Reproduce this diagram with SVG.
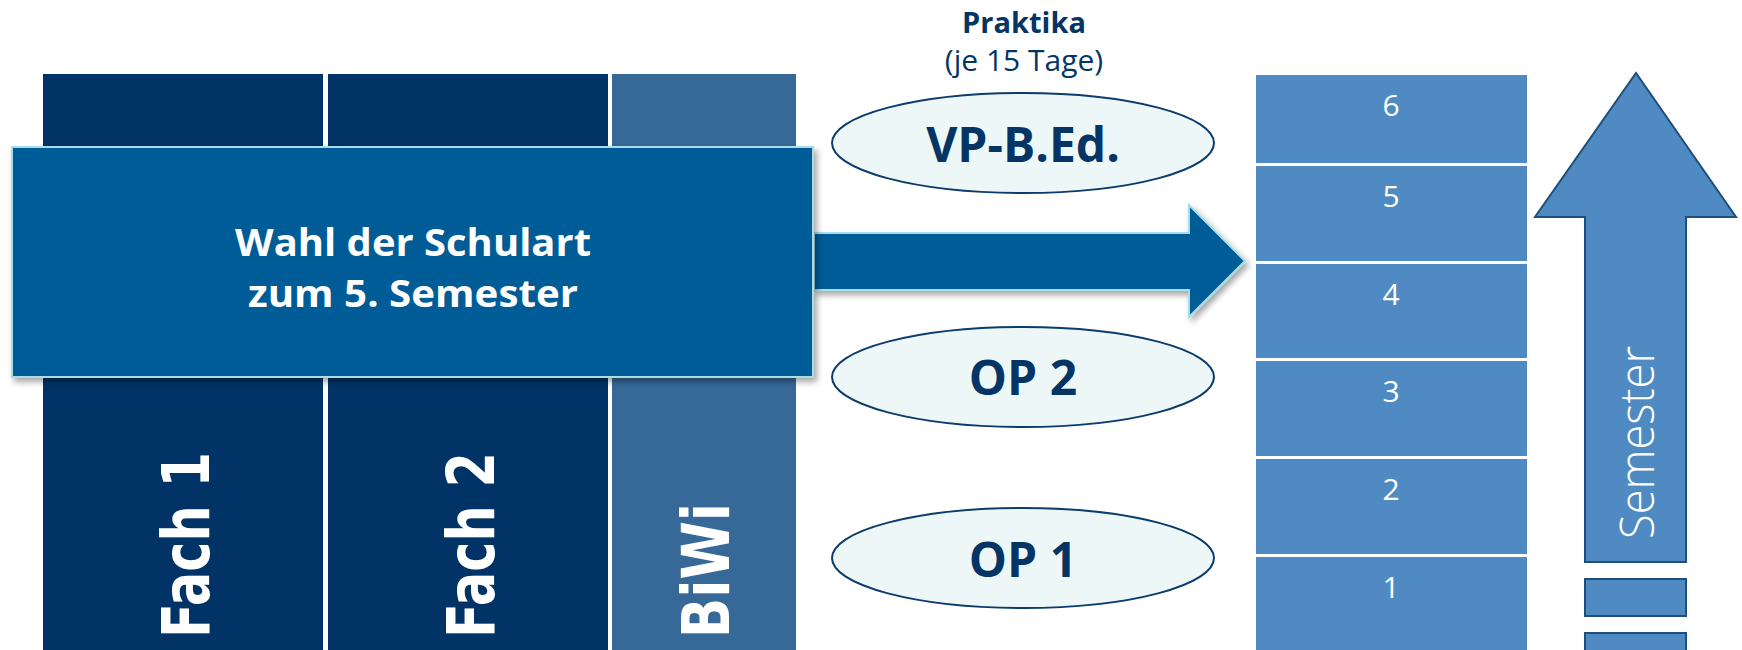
<svg xmlns="http://www.w3.org/2000/svg" width="1742" height="650" viewBox="0 0 1742 650">
<defs>
<filter id="shadow" x="-5%" y="-5%" width="115%" height="120%">
<feDropShadow dx="3" dy="4" stdDeviation="3" flood-color="#000" flood-opacity="0.35"/>
</filter>
</defs>
<style>
.col{fill:#023366;}
.biwi{fill:#366898;}
.colText{font-family:"DejaVu Sans",sans-serif;font-weight:bold;font-size:66px;fill:#ffffff;}
.main{fill:#005B96;stroke:#A8DCE6;stroke-width:2;}
.mainText{font-family:"Open Sans",sans-serif;font-weight:bold;font-size:38px;fill:#ffffff;text-anchor:middle;}
.ell{fill:#EEF7F7;stroke:#0B3C6C;stroke-width:2;}
.ellText{font-family:"Open Sans",sans-serif;font-weight:bold;font-size:48px;fill:#043565;text-anchor:middle;}
.head{font-family:"Open Sans",sans-serif;fill:#043565;text-anchor:middle;}
.sem{fill:#4F8BC2;}
.semNum{font-family:"Open Sans",sans-serif;font-size:30px;fill:#ffffff;text-anchor:middle;}
.up{fill:#4F8BC2;stroke:#1F4E79;stroke-width:2;}
</style>

<g id="fach1">
<rect class="col" x="43" y="74" width="280" height="576"/>
<text class="colText" transform="translate(209,638) rotate(-90)" textLength="186" lengthAdjust="spacingAndGlyphs">Fach 1</text>
</g>
<g id="fach2">
<rect class="col" x="328" y="74" width="280" height="576"/>
<text class="colText" transform="translate(494,638) rotate(-90)" textLength="186" lengthAdjust="spacingAndGlyphs">Fach 2</text>
</g>
<g id="biwi">
<rect class="biwi" x="612" y="74" width="184" height="576"/>
<text class="colText" transform="translate(729,638) rotate(-90)" textLength="135" lengthAdjust="spacingAndGlyphs">BiWi</text>
</g>

<g id="connectors">
<path class="main" filter="url(#shadow)" d="M814,233 L1189,233 L1189,205 L1245,261 L1189,317 L1189,290 L814,290 Z"/>
</g>

<g id="wahl">
<rect class="main" filter="url(#shadow)" x="12" y="147" width="801" height="230"/>
<text class="mainText" x="413" y="256" textLength="356" lengthAdjust="spacingAndGlyphs">Wahl der Schulart</text>
<text class="mainText" x="413" y="307" textLength="330" lengthAdjust="spacingAndGlyphs">zum 5. Semester</text>
</g>

<g id="praktika">
<text class="head" x="1024" y="33" font-size="29" font-weight="bold">Praktika</text>
<text class="head" x="1024" y="71" font-size="30">(je 15 Tage)</text>
</g>

<g id="vp">
<ellipse class="ell" cx="1023" cy="143" rx="191" ry="50"/>
<text class="ellText" x="1023" y="162">VP-B.Ed.</text>
</g>
<g id="op2">
<ellipse class="ell" cx="1023" cy="377" rx="191" ry="50"/>
<text class="ellText" x="1023" y="395">OP 2</text>
</g>
<g id="op1">
<ellipse class="ell" cx="1023" cy="558" rx="191" ry="50"/>
<text class="ellText" x="1023" y="577">OP 1</text>
</g>

<g id="sem6"><rect class="sem" x="1256" y="75" width="271" height="88"/><text class="semNum" x="1391" y="116">6</text></g>
<g id="sem5"><rect class="sem" x="1256" y="166" width="271" height="95"/><text class="semNum" x="1391" y="207">5</text></g>
<g id="sem4"><rect class="sem" x="1256" y="264" width="271" height="94"/><text class="semNum" x="1391" y="305">4</text></g>
<g id="sem3"><rect class="sem" x="1256" y="361" width="271" height="95"/><text class="semNum" x="1391" y="402">3</text></g>
<g id="sem2"><rect class="sem" x="1256" y="459" width="271" height="95"/><text class="semNum" x="1391" y="500">2</text></g>
<g id="sem1"><rect class="sem" x="1256" y="557" width="271" height="100"/><text class="semNum" x="1391" y="598">1</text></g>

<g id="semesterArrow">
<path class="up" d="M1585,562 L1585,217 L1535,217 L1636,73 L1736,217 L1686,217 L1686,562 Z"/>
<rect class="up" x="1585" y="579" width="101" height="37"/>
<rect class="up" x="1585" y="633" width="101" height="30"/>
<text transform="translate(1654,539) rotate(-90)" font-family="Open Sans, sans-serif" font-weight="300" font-size="48" fill="#ffffff" textLength="193" lengthAdjust="spacingAndGlyphs">Semester</text>
</g>
</svg>
